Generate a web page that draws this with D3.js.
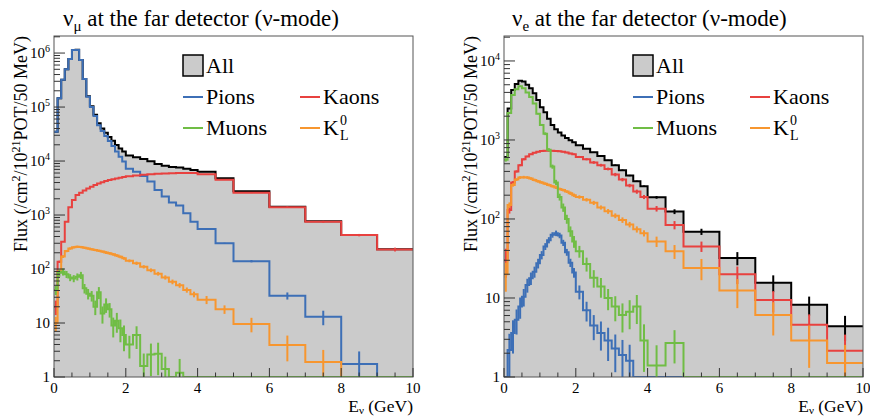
<!DOCTYPE html>
<html>
<head>
<meta charset="utf-8">
<script src="https://cdn.jsdelivr.net/npm/d3@7"></script>
<style>
  body { margin: 0; background: #fff; }
  text { font-family: "Liberation Serif", "DejaVu Serif", "Times New Roman", serif; fill: #000; }
</style>
</head>
<body>
<svg id="chart" width="870" height="416"></svg>
<script>
// bin edges (GeV), shared by all histograms
const edges = [0,0.1,0.2,0.3,0.4,0.5,0.6,0.7,0.8,0.9,1.0,1.1,1.2,1.3,1.4,1.5,1.6,1.7,1.8,1.9,
               2.0,2.2,2.4,2.6,2.8,3.0,3.2,3.4,3.6,3.8,4.0,4.5,5,6,7,8,9,10];
const xTicks = [0, 2, 4, 6, 8, 10];

// ---- nu_mu at the far detector ----
const muAll = [3.5e4,1.45e5,3.2e5,5e5,7.8e5,1.14e6,1.15e6,7.4e5,3.3e5,1.58e5,
               1.03e5,7.2e4,5e4,4e4,3.35e4,2.8e4,2.37e4,1.98e4,1.7e4,1.5e4,
               1.27e4,1.18e4,1.09e4,9.9e3,8.8e3,8.2e3,7.75e3,7.6e3,7.2e3,6.85e3,
               6.3e3,4.8e3,2.75e3,1.43e3,765,428,232];
const muPions = [3.5e4,1.45e5,3.2e5,5e5,7.8e5,1.14e6,1.14e6,7.4e5,3.3e5,1.55e5,
                 1.0e5,6.8e4,4.6e4,3.6e4,2.9e4,2.35e4,1.9e4,1.5e4,1.2e4,9.8e3,
                 7.2e3,6.3e3,5.3e3,4.2e3,2.9e3,2.2e3,1.7e3,1.5e3,1.08e3,750,
                 550,300,140,32,13,1.75,0];
const muKaons = [20,136,320,750,1.4e3,1.9e3,2.35e3,2.6e3,2.85e3,3.1e3,
                 3.35e3,3.6e3,3.85e3,4.05e3,4.25e3,4.45e3,4.6e3,4.75e3,4.9e3,5.05e3,
                 5.2e3,5.4e3,5.55e3,5.7e3,5.8e3,5.9e3,5.95e3,6.0e3,6.0e3,6.0e3,
                 5.7e3,4.5e3,2.6e3,1.4e3,750,425,230];
const muMuons = [41,85,89,80,70,67,72,77,44,35,
                 32,20,37,15,22,18,9,11,8,6,
                 4,6,1.6,2.6,2.7,1.4,0,1.2,0,0,
                 0,0,0,0,0,0,0];
const muKL = [10,90,170,215,240,252,258,255,248,240,
              232,225,218,210,202,195,187,178,168,158,
              142,128,110,95,82,70,58,50,41,34,
              27,18,9.6,3.9,1.9,0,0];
// relative errors
const muAllErr = new Array(37).fill(0);
const muPionsErr = [0,0,0,0,0,0,0,0,0,0, 0,0,0,0,0,0,0,0,0,0,
                    0,0,0,0,0,0,0.02,0,0,0, 0.01,0.02,0.05,0.15,0.3,0.7,0];
const muKaonsErr = [0.3,0.05,0,0,0,0,0,0,0,0, 0,0,0,0,0,0,0,0,0,0,
                    0,0,0,0,0,0,0,0,0,0, 0.01,0.01,0.02,0.03,0.04,0.05,0.08];
const muMuonsErr = [0.2,0.15,0.15,0.15,0.15,0.15,0.15,0.15,0.2,0.22,
                    0.22,0.3,0.25,0.35,0.3,0.3,0.4,0.4,0.45,0.5,
                    0.45,0.45,0.7,0.6,0.6,0.7,0,0.8,0,0, 0,0,0,0,0,0,0];
const muKLErr = [0.3,0.08,0.06,0.05,0.05,0.05,0.05,0.05,0.05,0.05,
                 0.05,0.05,0.05,0.05,0.06,0.06,0.06,0.06,0.06,0.06,
                 0.06,0.07,0.07,0.08,0.08,0.09,0.1,0.1,0.11,0.12,
                 0.17,0.18,0.3,0.5,0.67,0,0];

// ---- nu_e at the far detector ----
const eAll = [610,2.5e3,4.3e3,5.1e3,5.6e3,5.5e3,5.0e3,4.5e3,3.9e3,3.2e3,
              2.6e3,2.25e3,1.85e3,1.55e3,1.37e3,1.24e3,1.14e3,1.06e3,990,935,
              855,775,700,625,555,480,415,355,300,260,
              188,124,69,32,15.6,8.2,4.4];
const ePions = [0,2.2,3.6,5.3,7.8,10.4,14.6,17.8,21.5,27.5,
                35,45,54,63,66,62,50,38,28,21,
                12,7,4.5,3.6,2.9,2.3,1.9,1.6,0,0,
                0,0,0,0,0,0,0];
const eKaons = [30,130,290,400,480,570,620,660,690,710,
                725,730,730,730,725,720,710,695,675,660,
                610,570,520,480,430,365,315,265,222,190,
                135,84,45,20,9.4,4.6,2.15];
const eMuons = [560,2.2e3,3.7e3,4.4e3,4.8e3,4.5e3,4.0e3,3.5e3,2.9e3,2.15e3,
                1.55e3,1.2e3,750,460,290,190,140,100,70,52,
                39,27,18,14,10,7.8,6.1,6.7,7.8,2.9,
                1.4,2.7,0,0,0,0,0];
const eKL = [20,150,270,315,335,338,335,325,312,300,
             290,280,270,260,250,240,232,222,212,200,
             190,175,160,140,125,110,97,85,74,66,
             52,39,24,12.4,6.1,2.9,1.5];
const eAllErr = [0.02,0.01,0,0,0,0,0,0,0,0, 0,0,0,0,0,0,0,0,0,0,
                 0.01,0.01,0.01,0.01,0.01,0.02,0.02,0.02,0.02,0.02,
                 0.04,0.07,0.09,0.19,0.24,0.27,0.35];
const ePionsErr = [0,0.6,0.45,0.35,0.3,0.25,0.2,0.18,0.16,0.14,
                   0.12,0.1,0.09,0.08,0.08,0.08,0.09,0.1,0.12,0.14,
                   0.2,0.28,0.35,0.4,0.45,0.5,0.55,0.6,0,0, 0,0,0,0,0,0,0];
const eKaonsErr = [0.4,0.1,0.04,0.03,0.03,0.03,0.02,0.02,0.02,0.02,
                   0.02,0.02,0.02,0.02,0.02,0.02,0.02,0.02,0.02,0.02,
                   0.03,0.03,0.04,0.04,0.04,0.05,0.05,0.05,0.06,0.06,
                   0.08,0.12,0.15,0.25,0.3,0.35,0.6];
const eMuonsErr = [0.05,0.02,0.01,0.01,0.01,0.01,0.01,0.01,0.01,0.02,
                   0.03,0.04,0.05,0.06,0.08,0.1,0.12,0.13,0.15,0.17,
                   0.17,0.2,0.25,0.28,0.3,0.35,0.4,0.4,0.4,0.6,
                   0.8,0.45,0,0,0,0,0];
const eKLErr = [0.4,0.08,0.05,0.04,0.04,0.04,0.04,0.04,0.04,0.04,
                0.04,0.04,0.04,0.04,0.04,0.04,0.04,0.04,0.05,0.05,
                0.05,0.05,0.06,0.06,0.07,0.07,0.08,0.08,0.09,0.09,
                0.15,0.2,0.3,0.4,0.45,0.55,0.7];

const colors = {
    all: "#000000", fill: "#cbcbcb",
    pions: "#3d6fb6", kaons: "#e8413f", muons: "#70bd45", kl: "#f7962f"
};

const frame = { left: 54, right: 413, top: 36, bottom: 377 };
const svg = d3.select("#chart");

function stepPoints(vals) {
    const pts = [];
    vals.forEach((v, i) => {
        pts.push([edges[i], v]);
        pts.push([edges[i + 1], v]);
    });
    return pts;
}

function drawPanel(offsetX, cfg) {
    const g = svg.append("g").attr("transform", `translate(${offsetX},0)`);
    const x = d3.scaleLinear().domain([0, 10]).range([frame.left, frame.right]);
    const y = d3.scaleLog().domain([1, cfg.yMax]).range([frame.bottom, frame.top]).clamp(true);
    const yv = v => y(Math.max(v, 1));

    const clipId = "clip" + offsetX;
    g.append("clipPath").attr("id", clipId).append("rect")
        .attr("x", frame.left).attr("y", frame.top)
        .attr("width", frame.right - frame.left).attr("height", frame.bottom - frame.top);
    const plot = g.append("g").attr("clip-path", `url(#${clipId})`);

    // filled "All" histogram
    const area = d3.area().x(d => x(d[0])).y0(frame.bottom).y1(d => yv(d[1]));
    const line = d3.line().x(d => x(d[0])).y(d => yv(d[1]));

    plot.append("path").datum(stepPoints(cfg.series[0].vals))
        .attr("d", area).attr("fill", colors.fill);

    cfg.series.forEach(s => {
        plot.append("path").datum(stepPoints(s.vals))
            .attr("d", line)
            .attr("fill", "none")
            .attr("stroke", s.color)
            .attr("stroke-width", 2);
        plot.selectAll(null)
            .data(s.vals.map((v, i) => ({ v, e: s.err[i], i })).filter(d => d.v > 0 && d.e > 0))
            .enter().append("line")
            .attr("x1", d => x((edges[d.i] + edges[d.i + 1]) / 2))
            .attr("x2", d => x((edges[d.i] + edges[d.i + 1]) / 2))
            .attr("y1", d => yv(d.v * (1 + d.e)))
            .attr("y2", d => yv(d.v * (1 - d.e)))
            .attr("stroke", s.color)
            .attr("stroke-width", 2);
    });

    // frame
    g.append("rect")
        .attr("x", frame.left).attr("y", frame.top)
        .attr("width", frame.right - frame.left).attr("height", frame.bottom - frame.top)
        .attr("fill", "none").attr("stroke", "#555").attr("stroke-width", 1);

    // x ticks
    const minorX = d3.range(0, 10.01, 0.5);
    g.selectAll(null).data(minorX).enter().append("line")
        .attr("x1", d => x(d)).attr("x2", d => x(d))
        .attr("y1", frame.bottom)
        .attr("y2", d => frame.bottom - (d % 2 === 0 ? 9 : 4.5))
        .attr("stroke", "#333").attr("stroke-width", 1);
    g.selectAll(null).data(xTicks).enter().append("text")
        .attr("x", d => x(d)).attr("y", 393)
        .attr("text-anchor", "middle")
        .style("font-size", "15px")
        .text(d => d);

    // y ticks (log)
    const topDec = Math.floor(Math.log10(cfg.yMax));
    const minorY = [];
    for (let dec = 0; dec <= topDec; dec++) {
        for (let k = 1; k <= 9; k++) {
            const v = k * Math.pow(10, dec);
            if (v <= cfg.yMax) minorY.push({ v, major: k === 1 });
        }
    }
    g.selectAll(null).data(minorY).enter().append("line")
        .attr("x1", frame.left)
        .attr("x2", d => frame.left + (d.major ? 11 : 6))
        .attr("y1", d => y(d.v)).attr("y2", d => y(d.v))
        .attr("stroke", "#333").attr("stroke-width", 1);

    const decs = d3.range(0, topDec + 1);
    const lab = g.selectAll(null).data(decs).enter().append("text")
        .attr("x", frame.left - 4)
        .attr("y", d => y(Math.pow(10, d)) + 5)
        .attr("text-anchor", "end")
        .style("font-size", "15px");
    lab.each(function (d) {
        const t = d3.select(this);
        if (d === 0) t.text("1");
        else if (d === 1) t.text("10");
        else {
            t.append("tspan").text("10");
            t.append("tspan").attr("dy", -6).style("font-size", "10px").text(d);
        }
    });

    // title
    const title = g.append("text").attr("x", cfg.titleX).attr("y", 26).style("font-size", "23px");
    title.append("tspan").text("\u03bd");
    title.append("tspan").attr("dy", 5).style("font-size", "15px").text(cfg.flavour);
    title.append("tspan").attr("dy", -5).text(" at the far detector (\u03bd-mode)");

    // x axis title
    const xt = g.append("text").attr("x", frame.right).attr("y", 412)
        .attr("text-anchor", "end").style("font-size", "17.5px");
    xt.append("tspan").text("E");
    xt.append("tspan").attr("dy", 1.5).style("font-size", "11px").text("\u03bd");
    xt.append("tspan").attr("dy", -1.5).text(" (GeV)");

    // y axis title
    const yt = g.append("text").attr("transform", `translate(27,${frame.top}) rotate(-90)`)
        .attr("text-anchor", "end").style("font-size", "18px");
    yt.append("tspan").text("Flux (/cm");
    yt.append("tspan").attr("dy", -7).style("font-size", "12px").text("2");
    yt.append("tspan").attr("dy", 7).text("/10");
    yt.append("tspan").attr("dy", -7).style("font-size", "12px").text("21");
    yt.append("tspan").attr("dy", 7).text("POT/50 MeV)");

    // legend
    const lg = g.append("g").style("font-size", "22px");
    lg.append("rect").attr("x", 183).attr("y", 55).attr("width", 20).attr("height", 21)
        .attr("fill", colors.fill).attr("stroke", "#000").attr("stroke-width", 1.5);
    lg.append("text").attr("x", 206).attr("y", 73).text("All");
    const entries = [
        { label: "Pions", color: colors.pions, lx: 183, ly: 97 },
        { label: "Kaons", color: colors.kaons, lx: 300, ly: 97 },
        { label: "Muons", color: colors.muons, lx: 183, ly: 128 },
        { label: "K", color: colors.kl, lx: 300, ly: 128, kl: true }
    ];
    entries.forEach(e => {
        lg.append("line").attr("x1", e.lx).attr("x2", e.lx + 20)
            .attr("y1", e.ly).attr("y2", e.ly)
            .attr("stroke", e.color).attr("stroke-width", 2);
        lg.append("text").attr("x", e.lx + 23).attr("y", e.ly + 7).text(e.label);
        if (e.kl) {
            lg.append("text").attr("x", e.lx + 40).attr("y", e.ly - 3)
                .style("font-size", "14px").text("0");
            lg.append("text").attr("x", e.lx + 40).attr("y", e.ly + 12)
                .style("font-size", "14px").text("L");
        }
    });
}

drawPanel(0, {
    yMax: 2.07e6, titleX: 63, flavour: "\u03bc",
    series: [
        { vals: muAll, err: muAllErr, color: colors.all },
        { vals: muPions, err: muPionsErr, color: colors.pions },
        { vals: muKaons, err: muKaonsErr, color: colors.kaons },
        { vals: muKL, err: muKLErr, color: colors.kl },
        { vals: muMuons, err: muMuonsErr, color: colors.muons }
    ]
});

drawPanel(450, {
    yMax: 2.07e4, titleX: 62, flavour: "e",
    series: [
        { vals: eAll, err: eAllErr, color: colors.all },
        { vals: ePions, err: ePionsErr, color: colors.pions },
        { vals: eKaons, err: eKaonsErr, color: colors.kaons },
        { vals: eKL, err: eKLErr, color: colors.kl },
        { vals: eMuons, err: eMuonsErr, color: colors.muons }
    ]
});
</script>
</body>
</html>
